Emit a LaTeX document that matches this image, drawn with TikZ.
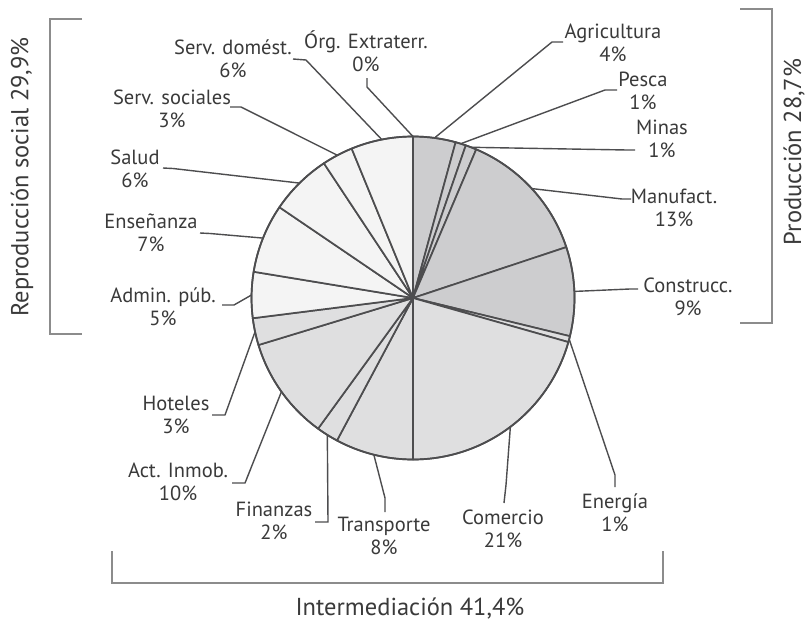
\documentclass[tikz,border=0pt]{standalone}
\usepackage{fontspec}
\setmainfont{PT Sans}
\definecolor{linec}{HTML}{4D4D4F}
\definecolor{brkc}{HTML}{8C8C8C}
\definecolor{textc}{HTML}{3A3A3A}
\definecolor{prodc}{HTML}{CDCDCF}
\definecolor{interc}{HTML}{DFDFE0}
\definecolor{reproc}{HTML}{F4F4F4}
\newcommand{\pieR}{161.5}
\newcommand{\pieslice}[3]{\filldraw[slice, fill=#3] (0,0) -- (#1:\pieR) arc[start angle=#1, end angle=#2, radius=\pieR] -- cycle;}
\begin{document}
\begin{tikzpicture}[x=1pt,y=1pt,
  slice/.style={draw=linec, line width=1.7pt, line join=round},
  leader/.style={draw=linec, line width=1.4pt, line join=round},
  brk/.style={draw=brkc, line width=1.1pt},
  lab/.style={align=center, inner sep=0pt, font=\fontsize{20.5}{23}\selectfont, text=textc},
  big/.style={inner sep=0pt, font=\fontsize{24.5}{28}\selectfont, text=textc}]
\useasboundingbox (0,0) rectangle (808,-621);
\fill[white] (0,0) rectangle (808,-621);
% ---------- pie ----------
\begin{scope}[shift={(413,-298)}]
\pieslice{90}{74.7}{prodc}
\pieslice{74.7}{70.92}{prodc}
\pieslice{70.92}{66.96}{prodc}
\pieslice{66.96}{18.36}{prodc}
\pieslice{18.36}{-13.68}{prodc}
\pieslice{-13.68}{-15.84}{interc}
\pieslice{-15.84}{-90}{interc}
\pieslice{-90}{-118.08}{interc}
\pieslice{-118.08}{-126}{interc}
\pieslice{-126}{-163.08}{interc}
\pieslice{-163.08}{-172.8}{interc}
\pieslice{-172.8}{-189.36}{reproc}
\pieslice{-189.36}{-214.2}{reproc}
\pieslice{-214.2}{-236.52}{reproc}
\pieslice{-236.52}{-247.68}{reproc}
\pieslice{-247.68}{-270}{reproc}
\draw[slice] (0,0) circle[radius=\pieR];
\coordinate (e-agri) at (82.35:\pieR);
\coordinate (e-pesca) at (72.81:\pieR);
\coordinate (e-minas) at (68.94:\pieR);
\coordinate (e-manuf) at (42.66:\pieR);
\coordinate (e-constr) at (2.34:\pieR);
\coordinate (e-energ) at (-14.76:\pieR);
\coordinate (e-comer) at (-52.92:\pieR);
\coordinate (e-transp) at (-104.04:\pieR);
\coordinate (e-finan) at (-122.04:\pieR);
\coordinate (e-inmob) at (-144.54:\pieR);
\coordinate (e-hotel) at (-167.94:\pieR);
\coordinate (e-admin) at (178.92:\pieR);
\coordinate (e-ensen) at (158.22:\pieR);
\coordinate (e-salud) at (134.64:\pieR);
\coordinate (e-soc) at (117.9:\pieR);
\coordinate (e-dom) at (101.16:\pieR);
\coordinate (e-org) at (90:\pieR);
\end{scope}
% ---------- labels ----------
\node[lab] (l-org) at (366,-51.5) {Órg. Extraterr.\\0\%};
\node[lab] (l-dom) at (233,-59) {Serv. domést.\\6\%};
\node[lab] (l-soc) at (172,-108.5) {Serv. sociales\\3\%};
\node[lab] (l-salud) at (135,-168.5) {Salud\\6\%};
\node[lab] (l-ensen) at (151,-232.5) {Enseñanza\\7\%};
\node[lab] (l-admin) at (163,-306.5) {Admin. púb.\\5\%};
\node[lab] (l-hotel) at (176,-415) {Hoteles\\3\%};
\node[lab] (l-inmob) at (178,-482) {Act. Inmob.\\10\%};
\node[lab] (l-finan) at (274,-520.5) {Finanzas\\2\%};
\node[lab] (l-transp) at (384,-536) {Transporte\\8\%};
\node[lab] (l-comer) at (503,-528.5) {Comercio\\21\%};
\node[lab] (l-energ) at (615,-512.5) {Energía\\1\%};
\node[lab] (l-agri) at (613,-42.5) {Agricultura\\4\%};
\node[lab] (l-pesca) at (643,-90.5) {Pesca\\1\%};
\node[lab] (l-minas) at (662,-138.5) {Minas\\1\%};
\node[lab] (l-manuf) at (674,-208) {Manufact.\\13\%};
\node[lab] (l-constr) at (688,-297) {Construcc.\\9\%};
% ---------- leader points ----------
\coordinate (a-org) at (367,-78);   \coordinate (b-org) at (367,-87);
\coordinate (a-dom) at (293,-59);   \coordinate (b-dom) at (306,-60);
\coordinate (a-soc) at (230,-107);  \coordinate (b-soc) at (241,-107);
\coordinate (a-salud) at (163,-168);\coordinate (b-salud) at (173,-168.5);
\coordinate (a-ensen) at (200,-233);\coordinate (b-ensen) at (210,-233.5);
\coordinate (a-admin) at (222,-305);\coordinate (b-admin) at (234,-305);
\coordinate (a-hotel) at (212,-415);\coordinate (b-hotel) at (225,-415);
\coordinate (a-inmob) at (232,-483);\coordinate (b-inmob) at (245,-483);
\coordinate (a-finan) at (315,-522);\coordinate (b-finan) at (328,-522);
\coordinate (a-transp) at (385,-512);\coordinate (b-transp) at (385,-498);
\coordinate (a-comer) at (504,-503);\coordinate (b-comer) at (506,-485);
\coordinate (a-energ) at (615,-487);\coordinate (b-energ) at (615,-475);
\coordinate (a-agri) at (563,-42);  \coordinate (b-agri) at (552,-42);
\coordinate (a-pesca) at (617,-90); \coordinate (b-pesca) at (605,-90);
\coordinate (a-minas) at (635,-150);\coordinate (b-minas) at (627,-150);
\coordinate (a-manuf) at (631,-199);\coordinate (b-manuf) at (622,-199);
\coordinate (a-constr) at (638,-289);\coordinate (b-constr) at (630,-289);
\foreach \n in {org,dom,soc,salud,ensen,admin,hotel,inmob,finan,transp,comer,energ,agri,pesca,minas,manuf,constr}
  \draw[leader] (a-\n) -- (b-\n) -- (e-\n);
% ---------- brackets ----------
\coordinate (bl1) at (82,-19); \coordinate (bl2) at (50,-19);
\coordinate (bl3) at (50,-334); \coordinate (bl4) at (82,-334);
\draw[brk] (bl1) -- (bl2) -- (bl3) -- (bl4);
\coordinate (br1) at (740,-9); \coordinate (br2) at (772,-9);
\coordinate (br3) at (772,-323); \coordinate (br4) at (740,-323);
\draw[brk] (br1) -- (br2) -- (br3) -- (br4);
\coordinate (bb1) at (112,-551); \coordinate (bb2) at (112,-583);
\coordinate (bb3) at (663,-583); \coordinate (bb4) at (663,-551);
\draw[brk] (bb1) -- (bb2) -- (bb3) -- (bb4);
\node[big, rotate=90] (t-repro) at (22,-177) {Reproducción social 29,9\%};
\node[big, rotate=90] (t-prod) at (794,-152) {Producción 28,7\%};
\node[big, anchor=base] (t-inter) at (410,-615.5) {Intermediación 41,4\%};
\end{tikzpicture}
\end{document}
